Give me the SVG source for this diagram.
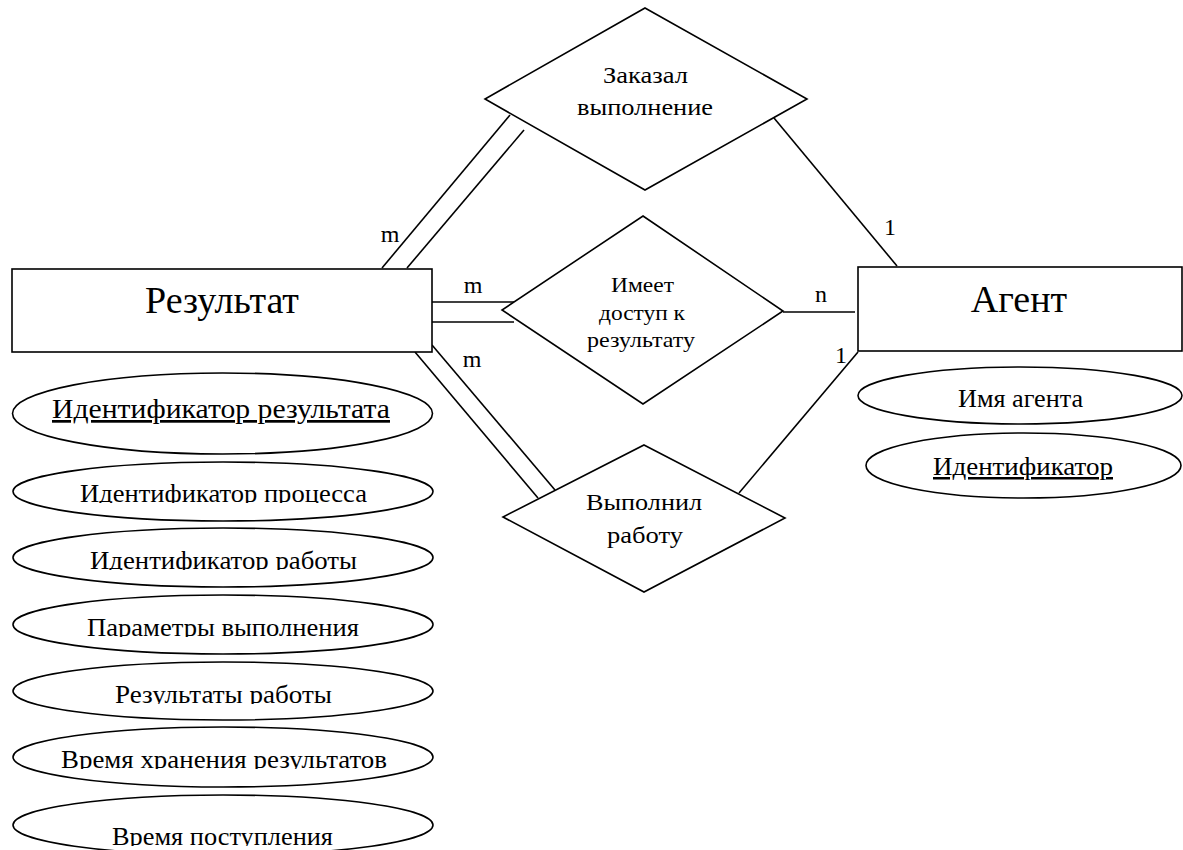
<svg xmlns="http://www.w3.org/2000/svg" width="1183" height="850" viewBox="0 0 1183 850">
<style>
.s{fill:#fff;stroke:#000;stroke-width:1.6}
.c{fill:none;stroke:#000;stroke-width:1.6}
text{font-family:"Liberation Serif","Times New Roman",serif;fill:#000;text-anchor:middle}
.t{font-size:38px}
.r{font-size:24px}
.r2{font-size:22px}
.a{font-size:25px}
.a1{font-size:27px}
.l{font-size:24px}
.u{text-decoration:underline}
</style>
<defs>
<clipPath id="k2"><rect x="0" y="450" width="450" height="53"/></clipPath>
<clipPath id="k3"><rect x="0" y="520" width="450" height="50"/></clipPath>
<clipPath id="k4"><rect x="0" y="590" width="450" height="47"/></clipPath>
<clipPath id="k5"><rect x="0" y="655" width="450" height="49"/></clipPath>
<clipPath id="k6"><rect x="0" y="722" width="450" height="47"/></clipPath>
<clipPath id="k7"><rect x="0" y="790" width="450" height="56"/></clipPath>
</defs>
<g id="connectors">
<line class="c" x1="510" y1="115" x2="382" y2="268"/>
<line class="c" x1="524" y1="130" x2="407" y2="268"/>
<line class="c" x1="774" y1="118" x2="897" y2="266"/>
<line class="c" x1="432" y1="302" x2="516" y2="302"/>
<line class="c" x1="430" y1="322" x2="514" y2="322"/>
<line class="c" x1="783" y1="312" x2="855" y2="312"/>
<line class="c" x1="432" y1="345" x2="555" y2="490"/>
<line class="c" x1="415" y1="352" x2="538" y2="498"/>
<line class="c" x1="739" y1="493" x2="858" y2="352"/>
<text class="l" x="390" y="242">m</text>
<text class="l" x="473" y="293">m</text>
<text class="l" x="472" y="367">m</text>
<text class="l" x="890" y="235">1</text>
<text class="l" x="821" y="302">n</text>
<text class="l" x="841" y="363">1</text>
</g>
<g id="rel-zakazal">
<polygon class="s" points="645,8 807,99 645,190 485,99"/>
<text class="r" x="645.5" y="83" textLength="85" lengthAdjust="spacingAndGlyphs">Заказал</text>
<text class="r" x="645" y="115" textLength="136" lengthAdjust="spacingAndGlyphs">выполнение</text>
</g>
<g id="rel-imeet">
<polygon class="s" points="643,216 783,311 643,404 502,310"/>
<text class="r2" x="642.5" y="292" textLength="63" lengthAdjust="spacingAndGlyphs">Имеет</text>
<text class="r2" x="642" y="320" textLength="86" lengthAdjust="spacingAndGlyphs">доступ к</text>
<text class="r2" x="641" y="347" textLength="108" lengthAdjust="spacingAndGlyphs">результату</text>
</g>
<g id="rel-vypolnil">
<polygon class="s" points="644,445 785,518 644,592 503,517"/>
<text class="r" x="644" y="510" textLength="116" lengthAdjust="spacingAndGlyphs">Выполнил</text>
<text class="r" x="645" y="543" textLength="76" lengthAdjust="spacingAndGlyphs">работу</text>
</g>
<g id="ent-rezultat">
<rect class="s" x="12" y="269" width="420" height="83"/>
<text class="t" x="222" y="313">Результат</text>
</g>
<g id="ent-agent">
<rect class="s" x="858" y="267" width="324" height="84"/>
<text class="t" x="1019" y="312">Агент</text>
</g>
<g id="attr-id-rez">
<ellipse class="s" cx="222.5" cy="413.5" rx="210" ry="40.5"/>
<text class="a1 u" x="221" y="418" textLength="338" lengthAdjust="spacingAndGlyphs">Идентификатор результата</text>
</g>
<g id="attr-id-proc">
<ellipse class="s" cx="223" cy="491.5" rx="210" ry="29.5"/>
<text class="a" x="223.5" y="502" clip-path="url(#k2)" textLength="287" lengthAdjust="spacingAndGlyphs">Идентификатор процесса</text>
</g>
<g id="attr-id-rab">
<ellipse class="s" cx="223" cy="557.5" rx="210" ry="29.5"/>
<text class="a" x="223.5" y="569" clip-path="url(#k3)" textLength="267" lengthAdjust="spacingAndGlyphs">Идентификатор работы</text>
</g>
<g id="attr-param">
<ellipse class="s" cx="223" cy="624.5" rx="210" ry="29.5"/>
<text class="a" x="223" y="636" clip-path="url(#k4)" textLength="272" lengthAdjust="spacingAndGlyphs">Параметры выполнения</text>
</g>
<g id="attr-rez-rab">
<ellipse class="s" cx="223" cy="691" rx="210" ry="29"/>
<text class="a" x="223.5" y="703" clip-path="url(#k5)" textLength="217" lengthAdjust="spacingAndGlyphs">Результаты работы</text>
</g>
<g id="attr-vremya-hr">
<ellipse class="s" cx="223" cy="757" rx="210" ry="30"/>
<text class="a" x="224" y="768" clip-path="url(#k6)" textLength="326" lengthAdjust="spacingAndGlyphs">Время хранения результатов</text>
</g>
<g id="attr-vremya-post">
<ellipse class="s" cx="223" cy="825" rx="210" ry="30"/>
<text class="a" x="222.5" y="845" clip-path="url(#k7)" textLength="221" lengthAdjust="spacingAndGlyphs">Время поступления</text>
</g>
<g id="attr-imya">
<ellipse class="s" cx="1020" cy="395.5" rx="162" ry="28.5"/>
<text class="a" x="1020.5" y="407" textLength="125" lengthAdjust="spacingAndGlyphs">Имя агента</text>
</g>
<g id="attr-id-agent">
<ellipse class="s" cx="1023.5" cy="465.5" rx="157.5" ry="32.5"/>
<text class="a u" x="1023" y="475" textLength="180" lengthAdjust="spacingAndGlyphs">Идентификатор</text>
</g>
</svg>
